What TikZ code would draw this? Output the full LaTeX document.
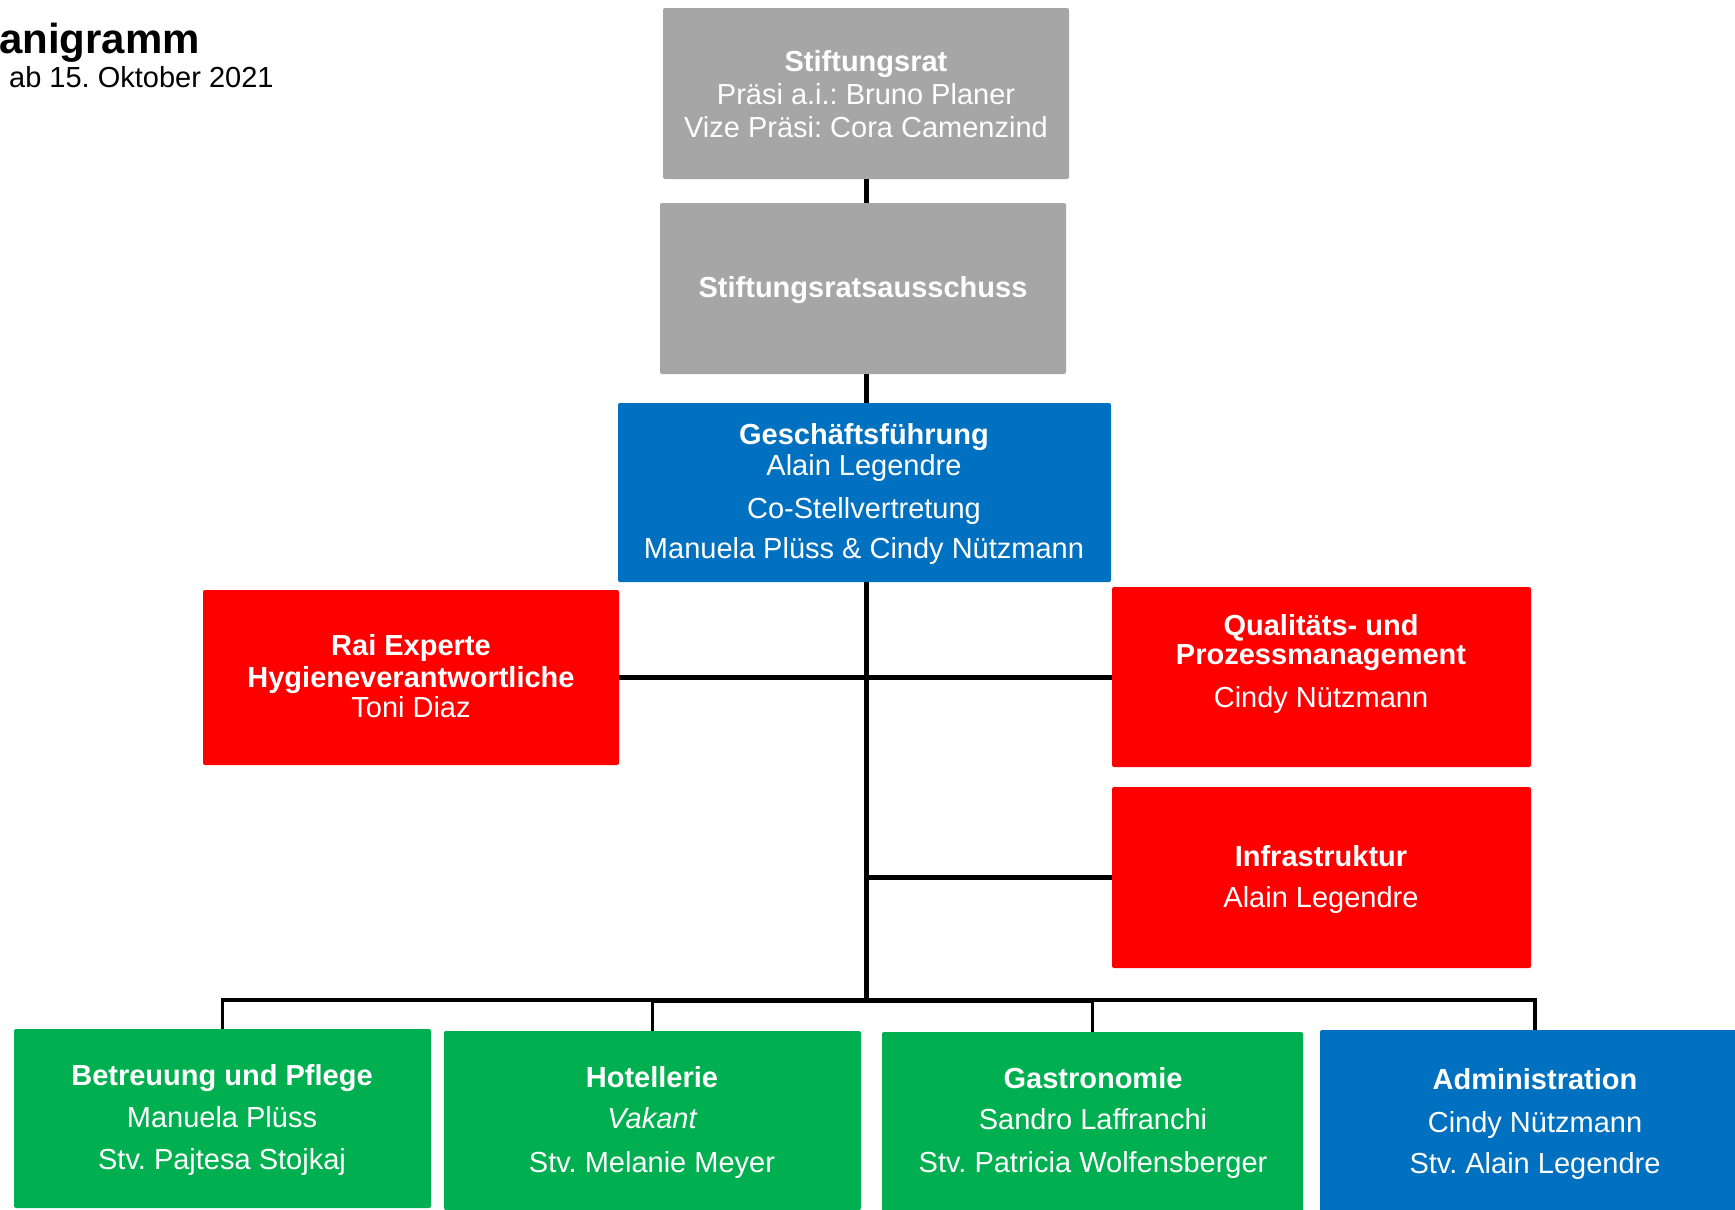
\documentclass[tikz,border=0pt]{standalone}
\usepackage{fontspec}
\setmainfont{Liberation Sans}
\frenchspacing
\definecolor{cgray}{HTML}{A6A6A6}
\definecolor{cblue}{HTML}{0070C0}
\definecolor{cred}{HTML}{FF0000}
\definecolor{cgreen}{HTML}{00B050}
\tikzset{
  box/.style={rectangle, rounded corners=2pt, inner sep=0pt, draw=none},
  tx/.style={anchor=base, text=white, inner sep=0pt, font=\fontsize{29}{34}\selectfont},
  tb/.style={tx, font=\fontsize{29}{34}\selectfont\bfseries},
  ti/.style={tx, font=\fontsize{29}{34}\selectfont\itshape},
  ln/.style={draw=black, line width=5pt},
  lnthin/.style={draw=black, line width=3.5pt},
}
\begin{document}
\frenchspacing
\begin{tikzpicture}[x=1pt,y=-1pt]
\useasboundingbox (0,0) rectangle (1735,1210);
\fill[white] (0,0) rectangle (1735,1210);

% title
\node[anchor=base west, inner sep=0pt, font=\fontsize{42}{48}\selectfont\bfseries] (title) at (-1,53) {anigramm};
\node[anchor=base west, inner sep=0pt, font=\fontsize{29}{34}\selectfont] (subtitle) at (9,87) {ab 15. Oktober 2021};

% boxes
\node[box, fill=cgray, minimum width=406pt, minimum height=171pt] (rat) at (866,93.5) {};
\node[box, fill=cgray, minimum width=406pt, minimum height=171pt] (aus) at (863,288.5) {};
\node[box, fill=cblue, minimum width=493pt, minimum height=179pt] (gf) at (864.5,492.5) {};
\node[box, fill=cred, minimum width=416pt, minimum height=175pt] (rai) at (411,677.5) {};
\node[box, fill=cred, minimum width=419pt, minimum height=180pt] (qual) at (1321.5,677) {};
\node[box, fill=cred, minimum width=419pt, minimum height=181pt] (infra) at (1321.5,877.5) {};
\node[box, fill=cgreen, minimum width=417pt, minimum height=179pt] (bet) at (222.5,1118.5) {};
\node[box, fill=cgreen, minimum width=417pt, minimum height=179pt] (hot) at (652.5,1120.5) {};
\node[box, fill=cgreen, minimum width=421pt, minimum height=180pt] (gas) at (1092.5,1122) {};
\node[box, fill=cblue, minimum width=430pt, minimum height=186pt] (adm) at (1535,1123) {};

% texts
\node[tb] (rat1) at (866,71) {Stiftungsrat};
\node[tx] (rat2) at (866,104) {Präsi a.i.: Bruno Planer};
\node[tx] (rat3) at (866,137) {Vize Präsi: Cora Camenzind};

\node[tb] (aus1) at (863,297) {Stiftungsratsausschuss};

\node[tb] (gf1) at (864,444) {Geschäftsführung};
\node[tx] (gf2) at (864,475) {Alain Legendre};
\node[tx] (gf3) at (864,518) {Co-Stellvertretung};
\node[tx] (gf4) at (864,558) {Manuela Plüss \& Cindy Nützmann};

\node[tb] (rai1) at (411,655) {Rai Experte};
\node[tb] (rai2) at (411,687) {Hygieneverantwortliche};
\node[tx] (rai3) at (411,717) {Toni Diaz};

\node[tb] (qual1) at (1321,635) {Qualitäts- und};
\node[tb] (qual2) at (1321,664) {Prozessmanagement};
\node[tx] (qual3) at (1321,707) {Cindy Nützmann};

\node[tb] (infra1) at (1321,866) {Infrastruktur};
\node[tx] (infra2) at (1321,907) {Alain Legendre};

\node[tb] (bet1) at (222,1085) {Betreuung und Pflege};
\node[tx] (bet2) at (222,1127) {Manuela Plüss};
\node[tx] (bet3) at (222,1169) {Stv. Pajtesa Stojkaj};

\node[tb] (hot1) at (652,1087) {Hotellerie};
\node[ti] (hot2) at (652,1128) {Vakant};
\node[tx] (hot3) at (652,1172) {Stv. Melanie Meyer};

\node[tb] (gas1) at (1093,1088) {Gastronomie};
\node[tx] (gas2) at (1093,1129) {Sandro Laffranchi};
\node[tx] (gas3) at (1093,1172) {Stv. Patricia Wolfensberger};

\node[tb] (adm1) at (1535,1089) {Administration};
\node[tx] (adm2) at (1535,1132) {Cindy Nützmann};
\node[tx] (adm3) at (1535,1173) {Stv. Alain Legendre};

% connectors
\coordinate (busc) at (866,1000);
\draw[ln] (rat.south) -- (rat.south |- aus.north);
\draw[ln] (rat.south |- aus.south) -- (rat.south |- gf.north);
\draw[ln] (busc |- gf.south) -- (busc);
\draw[ln] (rai.east) -- (rai.east -| qual.west);
\draw[ln] (busc |- infra.west) -- (infra.west);
\draw[lnthin] (bet.north) -- (bet.north |- busc) -- (hot.north |- busc);
\draw[ln] (hot.north |- busc) -- (gas.north |- busc);
\draw[lnthin] (gas.north |- busc) -- (adm.north |- busc) -- (adm.north);
\draw[lnthin] (hot.north |- busc) -- (hot.north);
\draw[lnthin] (gas.north |- busc) -- (gas.north);
\end{tikzpicture}
\end{document}
